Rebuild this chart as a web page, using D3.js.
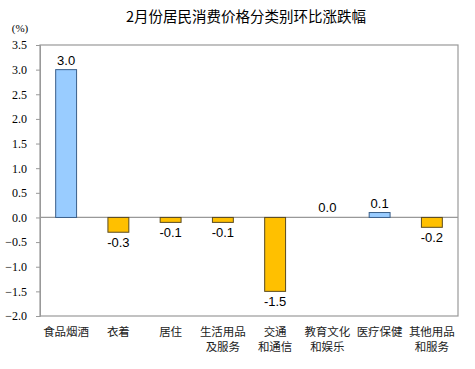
<!DOCTYPE html>
<html>
<head>
<meta charset="utf-8">
<script src="https://d3js.org/d3.v7.min.js"></script>
<style>
  body { margin: 0; background: #fff; }
</style>
</head>
<body>
<svg id="chart"></svg>
<script>
// chart data
const categories = ["食品烟酒", "衣着", "居住", "生活用品\n及服务", "交通\n和通信", "教育文化\n和娱乐", "医疗保健", "其他用品\n和服务"];
const values = [3.0, -0.3, -0.1, -0.1, -1.5, 0.0, 0.1, -0.2];
const yTicks = [3.5, 3.0, 2.5, 2.0, 1.5, 1.0, 0.5, 0.0, -0.5, -1.0, -1.5, -2.0];

const width = 475, height = 369;
const margin = { top: 45, right: 17, bottom: 53, left: 40 };

const svg = d3.select("#chart")
    .attr("width", width)
    .attr("height", height);

const x = d3.scaleBand()
    .domain(categories)
    .range([margin.left, width - margin.right])
    .paddingInner(0.6)
    .paddingOuter(0.3);

const y = d3.scaleLinear()
    .domain([-2, 3.5])
    .range([height - margin.bottom, margin.top]);

// title
svg.append("text")
    .attr("x", 246)
    .attr("y", 22)
    .attr("text-anchor", "middle")
    .style("font-family", "'Noto Sans CJK SC', sans-serif")
    .style("font-size", "14.5px")
    .style("fill", "#000")
    .text("2月份居民消费价格分类别环比涨跌幅");

// unit
svg.append("text")
    .attr("x", 20)
    .attr("y", 32)
    .attr("text-anchor", "middle")
    .style("font-family", "'Liberation Serif', serif")
    .style("font-size", "11px")
    .text("(%)");

// plot frame
svg.append("rect")
    .attr("x", margin.left)
    .attr("y", margin.top)
    .attr("width", width - margin.left - margin.right)
    .attr("height", height - margin.top - margin.bottom)
    .attr("fill", "none")
    .attr("stroke", "#999")
    .attr("stroke-width", 1.2);

// y axis
const yAxis = svg.append("g")
    .attr("transform", "translate(" + margin.left + ",0)")
    .call(d3.axisLeft(y).tickValues(yTicks).tickSize(4).tickFormat(d3.format(".1f")));
yAxis.select(".domain").attr("stroke", "#999");
yAxis.selectAll(".tick line").attr("stroke", "#999");
yAxis.selectAll(".tick text")
    .attr("x", -13)
    .style("font-family", "'Liberation Serif', serif")
    .style("font-size", "12px")
    .style("fill", "#000");

// zero line
svg.append("line")
    .attr("x1", margin.left)
    .attr("x2", width - margin.right)
    .attr("y1", y(0))
    .attr("y2", y(0))
    .attr("stroke", "#999")
    .attr("stroke-width", 1.2);

// bars
svg.selectAll(".bar")
    .data(values)
    .enter()
    .append("rect")
    .attr("class", "bar")
    .attr("x", (d, i) => x(categories[i]))
    .attr("width", x.bandwidth())
    .attr("y", d => y(Math.max(0, d)))
    .attr("height", d => Math.abs(y(d) - y(0)))
    .attr("fill", d => d > 0 ? "#99ccff" : "#ffc000")
    .attr("stroke", d => d > 0 ? "#3a5f8a" : "#5a4a20")
    .attr("stroke-width", 1);

// value labels
svg.selectAll(".val")
    .data(values)
    .enter()
    .append("text")
    .attr("class", "val")
    .attr("x", (d, i) => x(categories[i]) + x.bandwidth() / 2)
    .attr("y", d => d >= 0 ? y(d) - 5 : y(d) + 15)
    .attr("text-anchor", "middle")
    .style("font-family", "'Liberation Sans', Arial, sans-serif")
    .style("font-size", "13px")
    .style("fill", "#000")
    .text(d => d.toFixed(1));

// category labels
const xl = svg.selectAll(".cat")
    .data(categories)
    .enter()
    .append("text")
    .attr("class", "cat")
    .attr("text-anchor", "middle")
    .style("font-family", "'Noto Sans CJK SC', sans-serif")
    .style("font-size", "11.5px")
    .style("fill", "#222");
xl.each(function(d) {
    const lines = d.split("\n");
    const cx = x(d) + x.bandwidth() / 2;
    lines.forEach((t, k) => {
        d3.select(this).append("tspan")
            .attr("x", cx)
            .attr("y", 336 + k * 15)
            .text(t);
    });
});
</script>
</body>
</html>
